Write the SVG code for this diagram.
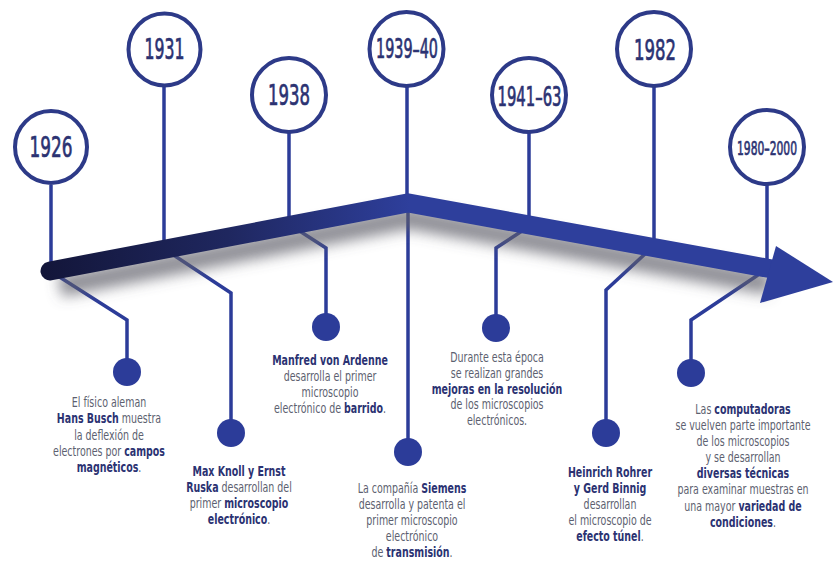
<svg xmlns="http://www.w3.org/2000/svg" width="833" height="561" viewBox="0 0 833 561">
<defs>
<style>
.ring{fill:#fff;stroke:#2d3a88;stroke-width:4}
.stem{fill:none;stroke:#2c3c99;stroke-width:3.5;stroke-linejoin:miter}
.dot{fill:#2c3c99}
.yr{font-family:"DejaVu Sans Condensed","DejaVu Sans",sans-serif;font-stretch:condensed;font-weight:normal;fill:#2b3272;stroke:#2b3272;stroke-width:0.7;text-anchor:middle}
.t{font-family:"DejaVu Sans Condensed","DejaVu Sans",sans-serif;font-stretch:condensed;font-size:13.5px;fill:#5d5f70;text-anchor:middle}
.b{font-weight:bold;fill:#2b3272}
</style>
<linearGradient id="lg" gradientUnits="userSpaceOnUse" x1="45" y1="0" x2="410" y2="0">
<stop offset="0" stop-color="#13163a"/>
<stop offset="0.5" stop-color="#1f275f"/>
<stop offset="1" stop-color="#2e3f9c"/>
</linearGradient>
<filter id="sh" x="-20%" y="-100%" width="140%" height="300%">
<feGaussianBlur stdDeviation="7"/>
</filter>
</defs>
<rect width="833" height="561" fill="#fff"/>

<g id="connectors">
<line class="stem" x1="51" y1="185" x2="51" y2="266"/>
<line class="stem" x1="164" y1="87" x2="164" y2="242"/>
<line class="stem" x1="289" y1="133" x2="289" y2="218"/>
<line class="stem" x1="407" y1="87" x2="407" y2="200"/>
<line class="stem" x1="529" y1="133" x2="529" y2="218"/>
<line class="stem" x1="654" y1="87" x2="654" y2="243"/>
<line class="stem" x1="767" y1="185" x2="767" y2="266"/>
<polyline class="stem" points="58,276 127,320 127,370"/>
<polyline class="stem" points="172,254 231,293 231,432"/>
<polyline class="stem" points="298,230 326,248 326,327"/>
<polyline class="stem" points="408,208 408,452"/>
<polyline class="stem" points="522,231 496,248 496,327"/>
<polyline class="stem" points="645,254 606,290 606,432"/>
<polyline class="stem" points="758,275 691,320 691,372"/>
<polyline points="60,286 408,218 770,284" fill="none" stroke="#5e5e68" stroke-width="22" stroke-opacity="0.7" filter="url(#sh)"/>
<polyline points="50,271 408,203 772,269" fill="none" stroke="url(#lg)" stroke-width="19" stroke-linecap="round" stroke-linejoin="miter" stroke-miterlimit="10"/>
<polygon points="776,246 833,282 760,303" fill="#2e3f9c"/>
</g>

<g id="n1926">
<circle class="ring" cx="51" cy="147" r="36"/>
<text class="yr" x="51" y="157" font-size="29" textLength="43" lengthAdjust="spacingAndGlyphs">1926</text>
<circle class="dot" cx="127" cy="372" r="14"/>
<text class="t" transform="translate(109,0) scale(0.78,1)" x="0" y="407">El físico aleman<tspan x="0" dy="16.3"><tspan class="b">Hans Busch</tspan> muestra</tspan><tspan x="0" dy="16.3">la deflexión de</tspan><tspan x="0" dy="16.3">electrones por <tspan class="b">campos</tspan></tspan><tspan x="0" dy="16.3"><tspan class="b">magnéticos</tspan>.</tspan></text>
</g>

<g id="n1931">
<circle class="ring" cx="164.5" cy="49.5" r="36"/>
<text class="yr" x="164.5" y="59" font-size="29" textLength="40" lengthAdjust="spacingAndGlyphs">1931</text>
<circle class="dot" cx="231" cy="433" r="14"/>
<text class="t" transform="translate(239,0) scale(0.78,1)" x="0" y="476"><tspan class="b">Max Knoll y Ernst</tspan><tspan x="0" dy="16"><tspan class="b">Ruska</tspan> desarrollan del</tspan><tspan x="0" dy="16">primer <tspan class="b">microscopio</tspan></tspan><tspan x="0" dy="16"><tspan class="b">electrónico</tspan>.</tspan></text>
</g>

<g id="n1938">
<circle class="ring" cx="289" cy="95" r="37"/>
<text class="yr" x="289" y="105" font-size="29" textLength="42" lengthAdjust="spacingAndGlyphs">1938</text>
<circle class="dot" cx="326" cy="327" r="14"/>
<text class="t" transform="translate(330,0) scale(0.78,1)" x="0" y="365"><tspan class="b">Manfred von Ardenne</tspan><tspan x="0" dy="16">desarrolla el primer</tspan><tspan x="0" dy="16">microscopio</tspan><tspan x="0" dy="16">electrónico de <tspan class="b">barrido</tspan>.</tspan></text>
</g>

<g id="n1939">
<circle class="ring" cx="406.5" cy="49" r="37"/>
<text class="yr" x="407" y="58" font-size="26" textLength="62" lengthAdjust="spacingAndGlyphs">1939–40</text>
<circle class="dot" cx="408" cy="452" r="14"/>
<text class="t" transform="translate(412,0) scale(0.78,1)" x="0" y="493">La compañía <tspan class="b">Siemens</tspan><tspan x="0" dy="16">desarrolla y patenta el</tspan><tspan x="0" dy="16">primer microscopio</tspan><tspan x="0" dy="16">electrónico</tspan><tspan x="0" dy="16">de <tspan class="b">transmisión</tspan>.</tspan></text>
</g>

<g id="n1941">
<circle class="ring" cx="529" cy="95" r="37"/>
<text class="yr" x="529.5" y="106" font-size="26" textLength="64" lengthAdjust="spacingAndGlyphs">1941–63</text>
<circle class="dot" cx="496" cy="328" r="14"/>
<text class="t" transform="translate(497,0) scale(0.78,1)" x="0" y="362">Durante esta época<tspan x="0" dy="15.8">se realizan grandes</tspan><tspan x="0" dy="15.8" class="b">mejoras en la resolución</tspan><tspan x="0" dy="15.8">de los microscopios</tspan><tspan x="0" dy="15.8">electrónicos.</tspan></text>
</g>

<g id="n1982">
<circle class="ring" cx="654" cy="49" r="37"/>
<text class="yr" x="655" y="60" font-size="29" textLength="42" lengthAdjust="spacingAndGlyphs">1982</text>
<circle class="dot" cx="606" cy="433" r="14"/>
<text class="t" transform="translate(610,0) scale(0.78,1)" x="0" y="477"><tspan class="b">Heinrich Rohrer</tspan><tspan x="0" dy="16" class="b">y Gerd Binnig</tspan><tspan x="0" dy="16">desarrollan</tspan><tspan x="0" dy="16">el microscopio de</tspan><tspan x="0" dy="16"><tspan class="b">efecto túnel</tspan>.</tspan></text>
</g>

<g id="n1980">
<circle class="ring" cx="767" cy="147" r="37"/>
<text class="yr" x="767" y="155" font-size="20" textLength="60" lengthAdjust="spacingAndGlyphs">1980–2000</text>
<circle class="dot" cx="691" cy="373" r="14"/>
<text class="t" transform="translate(743,0) scale(0.78,1)" x="0" y="414">Las <tspan class="b">computadoras</tspan><tspan x="0" dy="16.1">se vuelven parte importante</tspan><tspan x="0" dy="16.1">de los microscopios</tspan><tspan x="0" dy="16.1">y se desarrollan</tspan><tspan x="0" dy="16.1" class="b">diversas técnicas</tspan><tspan x="0" dy="16.1">para examinar muestras en</tspan><tspan x="0" dy="16.1">una mayor <tspan class="b">variedad de</tspan></tspan><tspan x="0" dy="16.1"><tspan class="b">condiciones</tspan>.</tspan></text>
</g>
</svg>
